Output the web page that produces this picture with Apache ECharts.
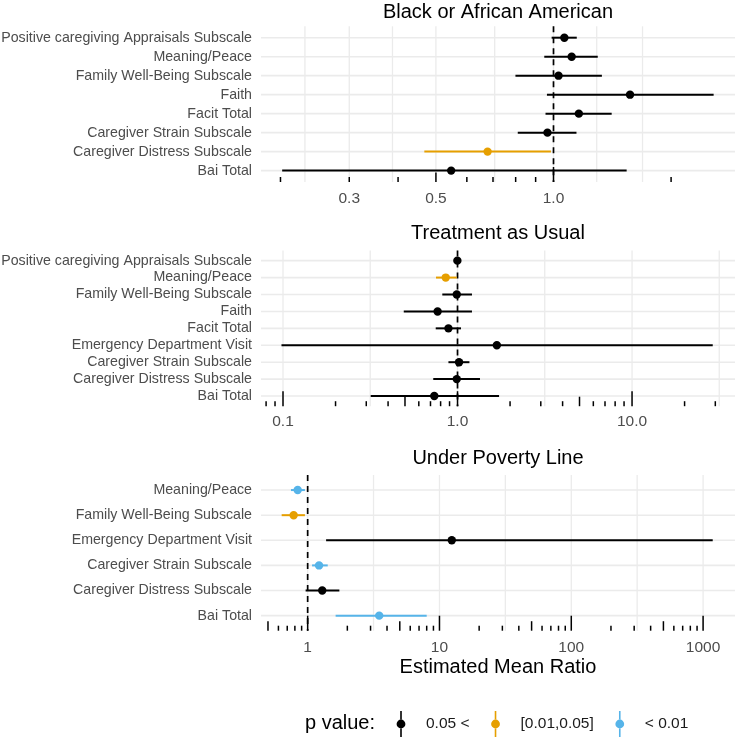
<!DOCTYPE html>
<html>
<head>
<meta charset="utf-8">
<title>Estimated Mean Ratio</title>
<script src="https://cdn.jsdelivr.net/npm/echarts@6/dist/echarts.min.js"></script>
<style>
html, body {margin:0; padding:0; background:#fff;}
#mainBox {width:736px; height:737px;}
</style>
</head>
<body>
<div id="mainBox"></div>
<script>
// p值分组
var pNames = ['0.05 <', '[0.01,0.05]', '< 0.01'];
var pColors = ['#000000', '#E69F00', '#56B4E9'];

// 面板1：Black or African American（类别从上到下）
var blackNames = ['Positive caregiving Appraisals Subscale', 'Meaning/Peace', 'Family Well-Being Subscale', 'Faith',
    'Facit Total', 'Caregiver Strain Subscale', 'Caregiver Distress Subscale', 'Bai Total'];
var blackEst = [1.066, 1.113, 1.03, 1.57, 1.161, 0.965, 0.678, 0.547];
var blackLo = [0.989, 0.947, 0.799, 0.962, 0.954, 0.81, 0.467, 0.202];
var blackHi = [1.147, 1.298, 1.33, 2.57, 1.409, 1.145, 0.985, 1.539];
var blackP = [0, 0, 0, 0, 0, 0, 1, 0];
var blackTicks = [0.3, 0.5, 1];
var blackTickLabels = ['0.3', '0.5', '1.0'];
var blackGrid = [0.231, 0.3, 0.387, 0.5, 0.707, 1, 1.29, 1.69];

// 面板2：Treatment as Usual
var tauNames = ['Positive caregiving Appraisals Subscale', 'Meaning/Peace', 'Family Well-Being Subscale', 'Faith',
    'Facit Total', 'Emergency Department Visit', 'Caregiver Strain Subscale', 'Caregiver Distress Subscale', 'Bai Total'];
var tauEst = [0.998, 0.856, 0.99, 0.769, 0.887, 1.68, 1.02, 0.99, 0.736];
var tauLo = [0.972, 0.753, 0.818, 0.492, 0.75, 0.098, 0.887, 0.726, 0.318];
var tauHi = [1.025, 0.99, 1.21, 1.21, 1.047, 29.0, 1.17, 1.345, 1.73];
var tauP = [0, 1, 0, 0, 0, 0, 0, 0, 0];
var tauTicks = [0.1, 1, 10];
var tauTickLabels = ['0.1', '1.0', '10.0'];
var tauGrid = [0.1, 0.316, 1, 3.16, 10, 31.6];

// 面板3：Under Poverty Line
var povNames = ['Meaning/Peace', 'Family Well-Being Subscale', 'Emergency Department Visit',
    'Caregiver Strain Subscale', 'Caregiver Distress Subscale', 'Bai Total'];
var povEst = [0.84, 0.783, 12.4, 1.22, 1.29, 3.49];
var povLo = [0.747, 0.635, 1.38, 1.08, 0.965, 1.63];
var povHi = [0.953, 0.953, 1183, 1.42, 1.74, 8.0];
var povP = [2, 1, 0, 2, 0, 2];
var povTicks = [1, 10, 100, 1000];
var povTickLabels = ['1', '10', '100', '1000'];
var povGrid = [1, 3.16, 10, 31.6, 100, 316, 1000];

var FONT = '"Liberation Sans", Arial, sans-serif';
var tickLen = [5, 9.5, 15];

var panels = [
    {title: 'Black or African American', names: blackNames, est: blackEst, lo: blackLo, hi: blackHi, p: blackP,
        ticks: blackTicks, labels: blackTickLabels, grid: blackGrid, min: 0.1783, max: 2.915, top: 26.3, titleY: 12, labelMargin: 9},
    {title: 'Treatment as Usual', names: tauNames, est: tauEst, lo: tauLo, hi: tauHi, p: tauP,
        ticks: tauTicks, labels: tauTickLabels, grid: tauGrid, min: 0.0748, max: 38.9, top: 250.5, titleY: 233, labelMargin: 8},
    {title: 'Under Poverty Line', names: povNames, est: povEst, lo: povLo, hi: povHi, p: povP,
        ticks: povTicks, labels: povTickLabels, grid: povGrid, min: 0.4426, max: 1746, top: 475, titleY: 458, labelMargin: 9}
];

// annotation_logticks 那样的对数刻度
function logTicks(min, max) {
    var out = [];
    for (var k = -3; k <= 4; k++) {
        for (var m = 1; m <= 9; m++) {
            var v = m * Math.pow(10, k);
            if (v >= min && v <= max) out.push([Math.log10(v), m === 1 ? 2 : (m === 5 ? 1 : 0)]);
        }
    }
    return out;
}

var grids = [], xAxes = [], yAxes = [], series = [], graphics = [];

panels.forEach(function (pn, g) {
    var n = pn.names.length;
    var xmin = Math.log10(pn.min), xmax = Math.log10(pn.max);
    var yIdx = pn.names.map(function (d, i) { return i + 1; });

    grids.push({left: 261, right: 1, top: pn.top, height: 155.7, containLabel: false, outerBoundsMode: 'none'});
    xAxes.push({
        gridIndex: g, type: 'value', min: xmin, max: xmax,
        axisLine: {show: false}, axisTick: {show: false}, splitLine: {show: false},
        axisLabel: {
            customValues: pn.ticks.map(function (t) { return Math.log10(t); }),
            formatter: function (v) {
                for (var j = 0; j < pn.ticks.length; j++) {
                    if (Math.abs(Math.log10(pn.ticks[j]) - v) < 1e-6) return pn.labels[j];
                }
                return '';
            },
            color: '#4D4D4D', fontSize: 15.5, fontFamily: FONT, margin: pn.labelMargin
        }
    });
    yAxes.push({
        gridIndex: g, type: 'value', inverse: true, min: 0.4, max: n + 0.6,
        axisLine: {show: false}, axisTick: {show: false}, splitLine: {show: false},
        axisLabel: {
            customValues: yIdx,
            formatter: function (v) { return pn.names[Math.round(v) - 1] || ''; },
            color: '#4D4D4D', fontSize: 14.2, fontFamily: FONT, margin: 9
        }
    });

    // 竖向网格线
    series.push({
        type: 'custom', xAxisIndex: g, yAxisIndex: g, silent: true, z: 1, animation: false,
        data: pn.grid.map(function (v) { return [Math.log10(v), 1]; }),
        renderItem: function (params, api) {
            var a = api.coord([api.value(0), 0.4]);
            var b = api.coord([api.value(0), n + 0.6]);
            return {type: 'line', shape: {x1: a[0], y1: a[1], x2: b[0], y2: b[1]},
                style: {stroke: '#EBEBEB', lineWidth: 1.3}};
        }
    });
    // 横向网格线
    series.push({
        type: 'custom', xAxisIndex: g, yAxisIndex: g, silent: true, z: 1, animation: false,
        data: yIdx.map(function (y) { return [0, y]; }),
        renderItem: function (params, api) {
            var a = api.coord([xmin, api.value(1)]);
            var b = api.coord([xmax, api.value(1)]);
            return {type: 'line', shape: {x1: a[0], y1: a[1], x2: b[0], y2: b[1]},
                style: {stroke: '#EBEBEB', lineWidth: 1.6}};
        }
    });
    // x = 1 虚线
    series.push({
        type: 'custom', xAxisIndex: g, yAxisIndex: g, silent: true, z: 2, animation: false,
        data: [[0, 1]],
        renderItem: function (params, api) {
            var a = api.coord([api.value(0), 0.4]);
            var b = api.coord([api.value(0), n + 0.6]);
            return {type: 'line', shape: {x1: a[0], y1: a[1], x2: b[0], y2: b[1]},
                style: {stroke: '#000', lineWidth: 1.7, lineDash: [6, 5]}};
        }
    });
    // 点和区间，按p值分组
    pNames.forEach(function (nm, k) {
        var rows = [];
        pn.est.forEach(function (e, i) {
            if (pn.p[i] === k) rows.push([Math.log10(e), Math.log10(pn.lo[i]), Math.log10(pn.hi[i]), i + 1]);
        });
        if (!rows.length) return;
        series.push({
            name: nm, type: 'custom', xAxisIndex: g, yAxisIndex: g, z: 3, animation: false,
            itemStyle: {color: pColors[k]},
            encode: {x: [0, 1, 2], y: 3},
            data: rows,
            renderItem: function (params, api) {
                var y = api.value(3);
                var a = api.coord([api.value(1), y]);
                var b = api.coord([api.value(2), y]);
                var c = api.coord([api.value(0), y]);
                var col = api.visual('color');
                return {type: 'group', children: [
                    {type: 'line', shape: {x1: a[0], y1: a[1], x2: b[0], y2: b[1]}, style: {stroke: col, lineWidth: 2}},
                    {type: 'circle', shape: {cx: c[0], cy: c[1], r: 4.2}, style: {fill: col}}
                ]};
            }
        });
    });
    // 底部对数刻度
    series.push({
        type: 'custom', xAxisIndex: g, yAxisIndex: g, silent: true, z: 4, animation: false,
        data: logTicks(pn.min, pn.max),
        renderItem: function (params, api) {
            var b = api.coord([api.value(0), n + 0.6]);
            var len = tickLen[api.value(1)];
            return {type: 'line', shape: {x1: b[0], y1: b[1], x2: b[0], y2: b[1] - len},
                style: {stroke: '#000', lineWidth: 1.5}};
        }
    });

    graphics.push({type: 'text', x: 498, y: pn.titleY, silent: true,
        style: {text: pn.title, fill: '#000', fontSize: 20, fontFamily: FONT,
            textAlign: 'center', textVerticalAlign: 'middle', align: 'center', verticalAlign: 'middle'}});
});

graphics.push({type: 'text', x: 498, y: 667, silent: true,
    style: {text: 'Estimated Mean Ratio', fill: '#000', fontSize: 20, fontFamily: FONT,
        textAlign: 'center', textVerticalAlign: 'middle', align: 'center', verticalAlign: 'middle'}});
graphics.push({type: 'text', x: 305, y: 723, silent: true,
    style: {text: 'p value:', fill: '#000', fontSize: 20, fontFamily: FONT,
        textAlign: 'left', textVerticalAlign: 'middle', align: 'left', verticalAlign: 'middle'}});

// 图例图标：竖线加圆点
var keyIcon = 'path://M0,13L40,13M19.2,0L20.8,0L20.8,8.8L19.2,8.8Z M19.2,17.2L20.8,17.2L20.8,26L19.2,26Z ' +
    'M15.6,13A4.4,4.4 0 1,0 24.4,13A4.4,4.4 0 1,0 15.6,13Z';

var myChart = echarts.init(document.getElementById('mainBox'));

var option = {
    backgroundColor: '#fff',
    animation: false,
    textStyle: {fontFamily: FONT},
    grid: grids,
    xAxis: xAxes,
    yAxis: yAxes,
    legend: {
        left: 376, top: 706, orient: 'horizontal',
        itemWidth: 40, itemHeight: 26, itemGap: 6,
        selectedMode: false,
        textStyle: {fontSize: 15.5, color: '#1A1A1A', fontFamily: FONT},
        data: pNames.map(function (nm, i) {
            return {name: nm, icon: keyIcon, itemStyle: {color: pColors[i]}};
        })
    },
    graphic: graphics,
    series: series
};

myChart.setOption(option);
</script>
</body>
</html>
